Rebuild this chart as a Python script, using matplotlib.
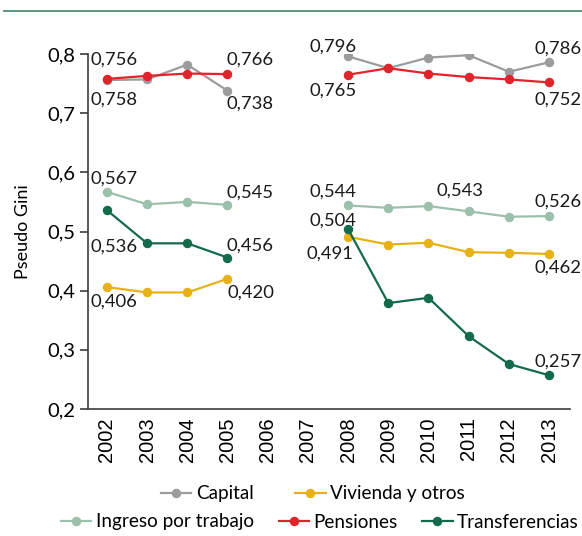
"""
Pseudo Gini por fuente de ingreso, 2002-2013.
"""
from matplotlib.lines import Line2D
import matplotlib.pyplot as plt
import numpy as np

plt.rcParams['font.family'] = ['Lato', 'DejaVu Sans']

years = np.arange(2002, 2014)
nan = np.nan
capital = [0.756, 0.757, 0.782, 0.738, nan, nan, 0.796, 0.776, 0.794, 0.798, 0.770, 0.786]
vivienda = [0.406, 0.397, 0.397, 0.420, nan, nan, 0.491, 0.478, 0.481, 0.465, 0.464, 0.462]
trabajo = [0.567, 0.546, 0.550, 0.545, nan, nan, 0.544, 0.540, 0.543, 0.534, 0.525, 0.526]
pensiones = [0.758, 0.763, 0.767, 0.766, nan, nan, 0.765, 0.776, 0.767, 0.761, 0.757, 0.752]
transferencias = [0.536, 0.480, 0.480, 0.456, nan, nan, 0.504, 0.379, 0.388, 0.323, 0.276, 0.257]

series = [
    ('Capital', capital, '#9c9c9e'),
    ('Vivienda y otros', vivienda, '#e8b216'),
    ('Ingreso por trabajo', trabajo, '#9bc0ab'),
    ('Pensiones', pensiones, '#e1232b'),
    ('Transferencias', transferencias, '#136b4b'),
]

# (series index, year, label, dx, dy) offsets in pixels
labels = [
    (0, 2002, '0,756', 7, 20), (3, 2002, '0,758', 7, -21),
    (3, 2005, '0,766', 23, 14), (0, 2005, '0,738', 23, -13),
    (2, 2002, '0,567', 7, 13), (2, 2005, '0,545', 23, 12),
    (4, 2002, '0,536', 7, -36), (4, 2005, '0,456', 23, 12),
    (1, 2002, '0,406', 7, -15), (1, 2005, '0,420', 23, -14),
    (0, 2008, '0,796', -15, 10), (3, 2008, '0,765', -15, -16),
    (0, 2013, '0,786', 9, 14), (3, 2013, '0,752', 9, -17),
    (2, 2008, '0,544', -15, 14), (2, 2010, '0,543', 32, 15),
    (2, 2013, '0,526', 9, 14), (4, 2008, '0,504', -15, 9),
    (1, 2008, '0,491', -18, -17), (1, 2013, '0,462', 9, -14),
    (4, 2013, '0,257', 9, 14),
]

fig = plt.figure(figsize=(5.82, 5.36), dpi=100)
ax = fig.add_axes([88 / 582, 1 - 409 / 536, (570 - 88) / 582, (409 - 54) / 536])

# top rule
fig.add_artist(Line2D([4 / 582, 1], [1 - 11 / 536] * 2, color='#4f8b70', lw=1.3))

for name, vals, color in series:
    ax.plot(years, vals, color=color, lw=1.6, marker='o', markersize=5.8, label=name)

for i, yr, txt, dx, dy in labels:
    val = series[i][1][yr - 2002]
    ax.annotate(txt, xy=(yr, val), xytext=(dx, dy), textcoords='offset pixels',
                ha='center', va='center', fontsize=13.3, color='#1a1a1a')

ax.set_xlim(2001.53, 2013.52)
ax.set_ylim(0.2, 0.8)
ax.set_xticks(years)
ax.set_xticklabels([str(y) for y in years], rotation=90, family='Liberation Sans', fontsize=14.5)
yt = [0.2, 0.3, 0.4, 0.5, 0.6, 0.7, 0.8]
ax.set_yticks(yt)
ax.set_yticklabels([f'{v:.1f}'.replace('.', ',') for v in yt], fontsize=14.5)
ax.tick_params(axis='x', length=0, pad=6)
ax.tick_params(axis='y', length=6, width=1.2, color='#3c3c3c', pad=3)
for s in ['top', 'right']:
    ax.spines[s].set_visible(False)
for s in ['left', 'bottom']:
    ax.spines[s].set_color('#3c3c3c')
    ax.spines[s].set_linewidth(1.2)
ax.set_ylabel('Pseudo Gini', fontsize=13, labelpad=12)

handles, names = ax.get_legend_handles_labels()
kw = dict(frameon=False, fontsize=13.6, handlelength=1.6, handletextpad=0.25,
          borderpad=0, borderaxespad=0)
fig.legend(handles[:2], names[:2], loc='center', bbox_to_anchor=(313 / 582, 1 - 494 / 536),
           ncol=2, columnspacing=2.2, **kw)
fig.legend(handles[2:], names[2:], loc='center', bbox_to_anchor=(320 / 582, 1 - 522 / 536),
           ncol=3, columnspacing=1.3, **kw)

fig.savefig('out.png', dpi=100)
